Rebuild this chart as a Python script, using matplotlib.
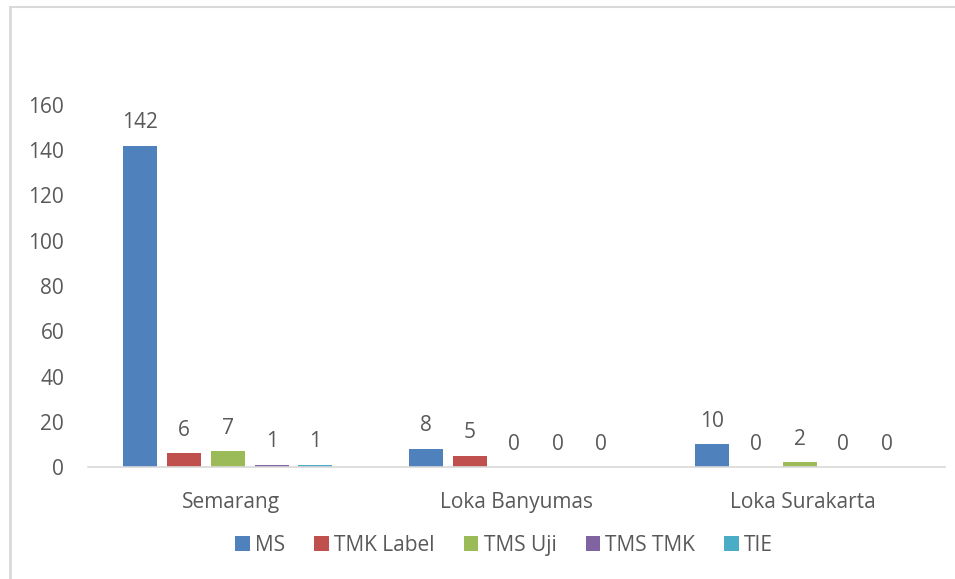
import matplotlib.pyplot as plt
import numpy as np
from matplotlib.lines import Line2D

plt.rcParams['font.family'] = ['Open Sans', 'DejaVu Sans']

categories = ['Semarang', 'Loka Banyumas', 'Loka Surakarta']
series = ['MS', 'TMK Label', 'TMS Uji', 'TMS TMK', 'TIE']
values = {
    'MS': [142, 8, 10],
    'TMK Label': [6, 5, 0],
    'TMS Uji': [7, 0, 2],
    'TMS TMK': [1, 0, 0],
    'TIE': [1, 0, 0],
}
colors = ['#4F81BD', '#C0504D', '#9BBB59', '#8064A2', '#4BACC6']
text_c = '#595959'

fig = plt.figure(figsize=(9.55, 5.79), dpi=100)
ax = fig.add_axes([0.092, 0.1934, 0.898, 0.6253])

x = np.arange(len(categories))
step = 0.153
width = 0.119
for i, (name, col) in enumerate(zip(series, colors)):
    pos = x + (i - 2) * step - 0.01
    bars = ax.bar(pos, values[name], width, color=col, label=name)
    for b, v in zip(bars, values[name]):
        ax.annotate(str(v), (b.get_x() + b.get_width() / 2, v), xytext=(0, 9),
                    textcoords='offset points', ha='center', va='bottom',
                    fontsize=15, color=text_c)

ax.set_xlim(-0.5, 2.5)
ax.set_ylim(0, 160)
ax.set_yticks(range(0, 161, 20))
ax.set_xticks(x)
ax.set_xticklabels(categories)
ax.tick_params(axis='both', length=0, labelsize=15, colors=text_c)
ax.tick_params(axis='x', pad=18)
ax.tick_params(axis='y', pad=17)
for s in ['top', 'right', 'left']:
    ax.spines[s].set_visible(False)
ax.spines['bottom'].set_color('#D9D9D9')
ax.spines['bottom'].set_linewidth(1.2)

leg = fig.legend(loc='center', bbox_to_anchor=(0.528, 0.058), ncol=5, frameon=False,
                 fontsize=15, handlelength=0.7, handleheight=0.7, handletextpad=0.25,
                 columnspacing=1.4)
for t in leg.get_texts():
    t.set_color(text_c)

# outer frame lines (top and left only visible in the crop)
fig.add_artist(Line2D([0.0105, 1.0], [0.988, 0.988], color='#D9D9D9', lw=1.5, transform=fig.transFigure))
fig.add_artist(Line2D([0.0105, 0.0105], [0.0, 0.988], color='#D9D9D9', lw=2, transform=fig.transFigure))

fig.savefig('out.png', dpi=100)
